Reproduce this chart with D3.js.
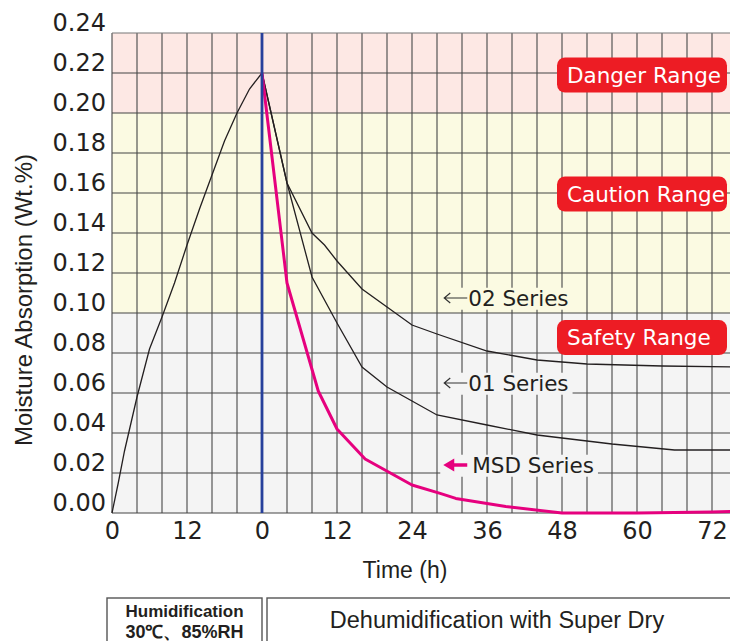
<!DOCTYPE html>
<html>
<head>
<meta charset="utf-8">
<script src="https://cdn.jsdelivr.net/npm/d3@7"></script>
<style>
  body { margin: 0; background: #fff; }
  svg { display: block; }
</style>
</head>
<body>
<div id="chart"></div>
<script>
const width = 730;
const height = 641;
const plot = {left: 112, top: 33, bottom: 513, right: 737};

// humidification phase, 0-24 h
const humidHours  = [0, 1, 2, 4, 6, 8, 10, 12, 14, 16, 18, 20, 22, 24];
const humidValues = [0, 0.015, 0.031, 0.058, 0.082, 0.098, 0.115, 0.134, 0.152, 0.169, 0.186, 0.200, 0.212, 0.220];

// dehumidification phase, hours from start of drying
const msdHours  = [0, 4, 9, 12, 16.5, 24, 28.5, 31, 39, 48, 60, 72, 76];
const msdValues = [0.220, 0.115, 0.061, 0.042, 0.027, 0.014, 0.0098, 0.0073, 0.0032, 0, 0, 0.0005, 0.0008];
const s01Hours  = [0, 4, 8, 12, 16, 20, 24, 28, 36, 44, 56, 66, 76];
const s01Values = [0.220, 0.165, 0.118, 0.095, 0.073, 0.063, 0.056, 0.049, 0.044, 0.039, 0.0345, 0.0315, 0.0315];
const s02Hours  = [0, 4, 8, 10, 12, 16, 20, 24, 28, 36, 44, 52, 64, 76];
const s02Values = [0.220, 0.165, 0.140, 0.134, 0.126, 0.112, 0.103, 0.094, 0.0895, 0.081, 0.0765, 0.0745, 0.0735, 0.073];

// ranges
const rangeNames = ['Danger Range', 'Caution Range', 'Safety Range'];
const rangeLow   = [0.20, 0.10, 0];
const rangeHigh  = [0.24, 0.20, 0.10];

// axes
const yTicks = [0, 0.02, 0.04, 0.06, 0.08, 0.10, 0.12, 0.14, 0.16, 0.18, 0.20, 0.22, 0.24];
const xTickHours  = [0, 12, 24, 36, 48, 60, 72, 84, 96];
const xTickLabels = ['0', '12', '0', '12', '24', '36', '48', '60', '72'];

const humidLen = 24; // drying starts here on the axis

const rangeFills = ['#fde8e4', '#fbfae2', '#f4f4f4'];
const pink = '#e6007e';
const numFont = '"DejaVu Sans", sans-serif';
const sansFont = '"Liberation Sans", Arial, sans-serif';

const svg = d3.select('#chart')
  .append('svg')
  .attr('width', width)
  .attr('height', height);

const x = d3.scaleLinear().domain([0, 100]).range([plot.left, plot.right]);
const y = d3.scaleLinear().domain([0, 0.24]).range([plot.bottom, plot.top]);

// background bands
svg.selectAll('rect.band')
  .data(rangeNames)
  .enter()
  .append('rect')
  .attr('class', 'band')
  .attr('x', x(0))
  .attr('width', x(100) - x(0))
  .attr('y', (d, i) => y(rangeHigh[i]))
  .attr('height', (d, i) => y(rangeLow[i]) - y(rangeHigh[i]))
  .attr('fill', (d, i) => rangeFills[i]);

// grid
const grid = svg.append('g').attr('stroke-width', 1.2);
grid.selectAll('line.v')
  .data(d3.range(0, 101, 4))
  .enter()
  .append('line')
  .attr('x1', d => x(d)).attr('x2', d => x(d))
  .attr('y1', y(0.24)).attr('y2', y(0))
  .attr('stroke', '#555');
grid.selectAll('line.h')
  .data(yTicks)
  .enter()
  .append('line')
  .attr('x1', x(0)).attr('x2', x(100))
  .attr('y1', d => y(d)).attr('y2', d => y(d))
  .attr('stroke', d => d === 0.24 ? '#777' : '#444');

// series labels (drawn early so their backing hides the grid)
const seriesLabels = [
  {text: '02 Series', h: 53, v: 0.1075, fill: rangeFills[1]},
  {text: '01 Series', h: 53, v: 0.065, fill: rangeFills[2]},
  {text: 'MSD Series', h: 53, v: 0.024, fill: rangeFills[2]}
];
const lab = svg.append('g');
seriesLabels.forEach((s, i) => {
  const g = lab.append('g');
  const bg = g.append('rect').attr('fill', s.fill);
  const x0 = x(s.h);
  const ay = y(s.v);
  const t = g.append('text')
    .attr('x', x0 + (i < 2 ? 25 : 29))
    .attr('y', ay)
    .attr('dy', '0.36em')
    .style('font-family', numFont)
    .style('font-size', '21.5px')
    .attr('fill', '#231f20')
    .text(s.text);
  const b = t.node().getBBox();
  bg.attr('x', x0 - 3).attr('y', b.y + 2).attr('width', b.x + b.width + 4 - (x0 - 3)).attr('height', b.height - 3);
  if (i < 2) {
    // thin arrow
    g.append('path')
      .attr('d', `M${x0 + 24},${ay} H${x0 + 1} M${x0 + 7},${ay - 5} L${x0 + 1},${ay} L${x0 + 7},${ay + 5}`)
      .attr('fill', 'none').attr('stroke', '#333').attr('stroke-width', 1.2);
  } else {
    g.append('path')
      .attr('d', `M${x0 + 24},${ay} H${x0 + 8}`)
      .attr('stroke', pink).attr('stroke-width', 3.5);
    g.append('path')
      .attr('d', `M${x0},${ay} L${x0 + 11},${ay - 6.5} L${x0 + 11},${ay + 6.5} Z`)
      .attr('fill', pink);
  }
});

// curves
const line = d3.line().x(d => x(d[0])).y(d => y(d[1]));
const humid = humidHours.map((h, i) => [h, humidValues[i]]);
const s02 = s02Hours.map((h, i) => [h + humidLen, s02Values[i]]);
const s01 = s01Hours.map((h, i) => [h + humidLen, s01Values[i]]);
const msd = msdHours.map((h, i) => [h + humidLen, msdValues[i]]);

[humid, s02, s01].forEach(d => {
  svg.append('path')
    .datum(d)
    .attr('d', line)
    .attr('fill', 'none')
    .attr('stroke', '#231f20')
    .attr('stroke-width', 1.3);
});
svg.append('path')
  .datum(msd)
  .attr('d', line)
  .attr('fill', 'none')
  .attr('stroke', pink)
  .attr('stroke-width', 3)
  .attr('stroke-linejoin', 'round');

// boundary between humidification and drying
svg.append('line')
  .attr('x1', x(humidLen)).attr('x2', x(humidLen))
  .attr('y1', y(0.24)).attr('y2', y(0))
  .attr('stroke', '#27409b')
  .attr('stroke-width', 2.8);

// range badges
const badgeV = [0.219, 0.1595, 0.0877];
const badges = svg.append('g');
rangeNames.forEach((name, i) => {
  badges.append('rect')
    .attr('x', 557).attr('width', 170)
    .attr('y', y(badgeV[i]) - 17.5).attr('height', 35)
    .attr('rx', 8)
    .attr('fill', '#ed1c24');
  badges.append('text')
    .attr('x', 567)
    .attr('y', y(badgeV[i]))
    .attr('dy', '0.36em')
    .attr('fill', '#fff')
    .style('font-family', numFont)
    .style('font-size', '21.5px')
    .text(name);
});

// y axis
const yAxis = d3.axisLeft(y)
  .tickValues(yTicks)
  .tickFormat(d3.format('.2f'))
  .tickSize(0)
  .tickPadding(6);
const gy = svg.append('g')
  .attr('transform', `translate(${plot.left},0)`)
  .call(yAxis);
gy.select('.domain').remove();
gy.selectAll('text')
  .attr('dy', '-0.12em')
  .attr('fill', '#231f20')
  .style('font-family', numFont)
  .style('font-size', '24px');

// x axis
const xAxis = d3.axisBottom(x)
  .tickValues(xTickHours)
  .tickFormat((d, i) => xTickLabels[i])
  .tickSize(0)
  .tickPadding(9);
const gx = svg.append('g')
  .attr('transform', `translate(0,${plot.bottom})`)
  .call(xAxis);
gx.select('.domain').remove();
gx.selectAll('text')
  .attr('fill', '#231f20')
  .style('font-family', numFont)
  .style('font-size', '24px');

// axis titles
svg.append('text')
  .attr('x', 405).attr('y', 578)
  .attr('text-anchor', 'middle')
  .attr('fill', '#231f20')
  .style('font-family', sansFont)
  .style('font-size', '23px')
  .text('Time (h)');

svg.append('text')
  .attr('transform', 'rotate(-90)')
  .attr('x', -300).attr('y', 32)
  .attr('text-anchor', 'middle')
  .attr('fill', '#231f20')
  .style('font-family', sansFont)
  .style('font-size', '24px')
  .text('Moisture Absorption (Wt.%)');

// phase boxes below the chart
const boxes = svg.append('g');
boxes.append('rect')
  .attr('x', x(0) - 5).attr('y', 598)
  .attr('width', x(humidLen) - x(0) + 5).attr('height', 60)
  .attr('fill', '#fff').attr('stroke', '#555').attr('stroke-width', 1.4);
boxes.append('rect')
  .attr('x', x(humidLen) + 5).attr('y', 598)
  .attr('width', 500).attr('height', 60)
  .attr('fill', '#fff').attr('stroke', '#555').attr('stroke-width', 1.4);
boxes.append('text')
  .attr('x', (x(0) - 5 + x(humidLen)) / 2).attr('y', 617)
  .attr('text-anchor', 'middle')
  .attr('fill', '#231f20')
  .style('font-family', sansFont)
  .style('font-size', '17px')
  .style('font-weight', 'bold')
  .text('Humidification');
boxes.append('text')
  .attr('x', (x(0) - 5 + x(humidLen)) / 2).attr('y', 638)
  .attr('text-anchor', 'middle')
  .attr('fill', '#231f20')
  .style('font-family', sansFont)
  .style('font-size', '18px')
  .style('font-weight', 'bold')
  .text('30\u2103\u300185%RH');
boxes.append('text')
  .attr('x', 497).attr('y', 628)
  .attr('text-anchor', 'middle')
  .attr('fill', '#231f20')
  .style('font-family', sansFont)
  .style('font-size', '23.5px')
  .text('Dehumidification with Super Dry');
</script>
</body>
</html>
